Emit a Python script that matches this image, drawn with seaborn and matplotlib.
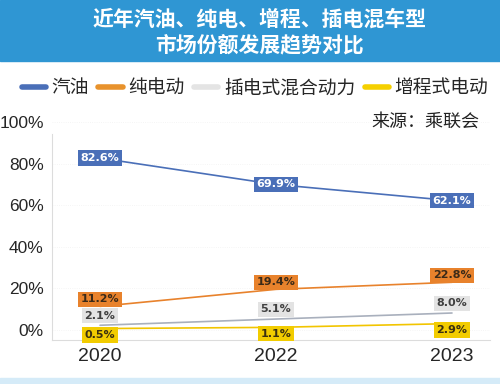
import pandas as pd
import numpy as np
import matplotlib.pyplot as plt
import seaborn as sns
from matplotlib.lines import Line2D
from matplotlib.patches import Rectangle

# 数据
years = ["2020", "2022", "2023"]
series = ["汽油", "纯电动", "插电式混合动力", "增程式电动"]
qiyou = [82.6, 69.9, 62.1]
chundian = [11.2, 19.4, 22.8]
chadian = [2.1, 5.1, 8.0]
zengcheng = [0.5, 1.1, 2.9]

colors = ["#4a6fb8", "#e8822c", "#a9b0bd", "#f2c500"]
legend_colors = ["#4a6fb8", "#e8922c", "#e4e4e4", "#f5d000"]
box_colors = ["#4a6fb8", "#e8822c", "#e3e3e3", "#f2cc00"]
text_colors = ["white", "#3b2a18", "#404040", "#3b3010"]
label_offsets = [0, 5, 7, -4.5]

vals = [qiyou, chundian, chadian, zengcheng]
df = pd.DataFrame({
    "x": np.tile(np.arange(len(years)), len(series)),
    "值": np.concatenate(vals),
    "类型": np.repeat(series, len(years)),
})

sns.set_style("white")
plt.rcParams['font.family'] = ['Noto Sans CJK SC', 'DejaVu Sans']

fig = plt.figure(figsize=(5, 3.84), dpi=100)

# 标题背景
fig.patches.append(Rectangle((0, 1 - 61 / 384), 1, 61 / 384, transform=fig.transFigure,
                             color="#2f96d3", zorder=0))
fig.patches.append(Rectangle((0, 0), 1, 6 / 384, transform=fig.transFigure,
                             color="#d5ebf8", zorder=0))
fig.text(0.52, 1 - 19 / 384, "近年汽油、纯电、增程、插电混车型", ha="center", va="center",
         color="white", fontsize=15, fontweight="bold")
fig.text(0.52, 1 - 45 / 384, "市场份额发展趋势对比", ha="center", va="center",
         color="white", fontsize=15, fontweight="bold")

ax = fig.add_axes([52 / 500, 44 / 384, 438 / 500, 218 / 384])
sns.lineplot(data=df, x="x", y="值", hue="类型", palette=colors, hue_order=series,
             linewidth=1.2, legend=False, ax=ax)

ax.set_xlim(-0.273, 2.216)
ax.set_ylim(-5, 100)
ax.set_yticks([0, 20, 40, 60, 80, 100])
ax.set_yticklabels([f"{v}%" for v in [0, 20, 40, 60, 80, 100]],
                   fontsize=12.5, family=['Liberation Sans'])
ax.set_xticks(range(len(years)))
ax.set_xticklabels(years, fontsize=14, family=['Liberation Sans'])
ax.set_xlabel("")
ax.set_ylabel("")
ax.tick_params(axis="x", length=0, pad=6)
ax.tick_params(axis="y", length=0, pad=6)
ax.grid(axis="y", color="#f2f2f2", linewidth=0.6, linestyle=":")
for s in ["top", "right"]:
    ax.spines[s].set_visible(False)
ax.spines["left"].set_color("#dcdcdc")
ax.spines["bottom"].set_color("#dcdcdc")
ax.spines["left"].set_bounds(-5, 94)
ax.patch.set_alpha(0)

# 数据标签
for v, bc, tc, off in zip(vals, box_colors, text_colors, label_offsets):
    for i, y in enumerate(v):
        ax.annotate(f"{y:.1f}%", (i, y), xytext=(0, off), textcoords="offset points",
                    ha="center", va="center", fontsize=8, fontweight="bold",
                    color=tc, family=['DejaVu Sans'],
                    bbox=dict(boxstyle="square,pad=0.25", fc=bc, ec="none"))

ax.text(0.975, 1.0, "来源：乘联会", transform=ax.transAxes, ha="right", va="center",
        fontsize=13, color="#222222")

handles = [Line2D([0], [0], color=c, linewidth=4) for c in legend_colors]
fig.legend(handles, series, loc="center", bbox_to_anchor=(0.51, 1 - 88 / 384), ncol=4,
           frameon=False, fontsize=13.5, handlelength=1.3, handletextpad=0.3,
           columnspacing=0.5)

fig.savefig("out.png", dpi=100)
